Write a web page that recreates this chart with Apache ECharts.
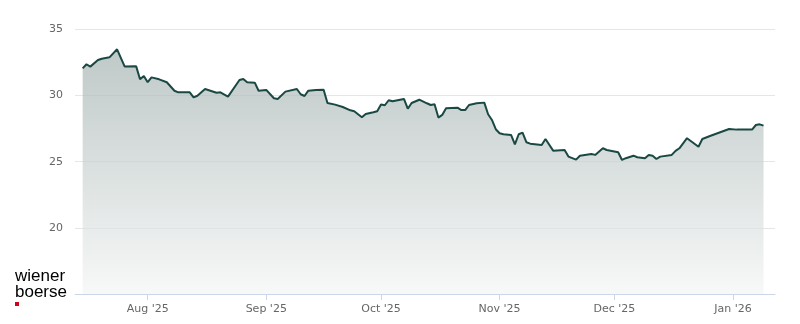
<!DOCTYPE html>
<html>
<head>
<meta charset="utf-8">
<script src="https://cdn.jsdelivr.net/npm/echarts@6/dist/echarts.min.js"></script>
<style>
html,body{margin:0;padding:0;background:#fff;}
#c{width:800px;height:324px;}
</style>
</head>
<body>
<div id="c"></div>
<script>
const dates = [
'2025-07-15','2025-07-16','2025-07-17','2025-07-19','2025-07-20','2025-07-22','2025-07-24','2025-07-26',
'2025-07-29','2025-07-30','2025-07-31','2025-08-01','2025-08-02','2025-08-04','2025-08-06','2025-08-08',
'2025-08-09','2025-08-12','2025-08-13','2025-08-14','2025-08-16','2025-08-19','2025-08-20','2025-08-22',
'2025-08-25','2025-08-26','2025-08-27','2025-08-29','2025-08-30','2025-09-01','2025-09-03','2025-09-04',
'2025-09-06','2025-09-09','2025-09-10','2025-09-11','2025-09-12','2025-09-14','2025-09-16','2025-09-17',
'2025-09-19','2025-09-21','2025-09-23','2025-09-24','2025-09-26','2025-09-27','2025-09-29','2025-09-30',
'2025-10-01','2025-10-02','2025-10-03','2025-10-04','2025-10-07','2025-10-08','2025-10-09','2025-10-11',
'2025-10-13','2025-10-14','2025-10-15','2025-10-16','2025-10-17','2025-10-18','2025-10-21','2025-10-22',
'2025-10-23','2025-10-24','2025-10-26','2025-10-28','2025-10-29','2025-10-30','2025-10-31','2025-11-01',
'2025-11-02','2025-11-04','2025-11-05','2025-11-06','2025-11-07','2025-11-08','2025-11-09','2025-11-12',
'2025-11-13','2025-11-15','2025-11-18','2025-11-19','2025-11-21','2025-11-22','2025-11-25','2025-11-26',
'2025-11-28','2025-11-29','2025-12-02','2025-12-03','2025-12-04','2025-12-06','2025-12-07','2025-12-09',
'2025-12-10','2025-12-11','2025-12-12','2025-12-13','2025-12-16','2025-12-17','2025-12-18','2025-12-20',
'2025-12-23','2025-12-24','2025-12-26','2025-12-31','2026-01-02','2026-01-06','2026-01-07','2026-01-08',
'2026-01-09'
];
const prices = [
32.05,32.36,32.18,32.68,32.78,32.88,33.49,32.18,
32.20,31.22,31.47,31.00,31.37,31.22,31.00,30.36,
30.24,30.24,29.86,29.98,30.49,30.21,30.24,29.91,
31.17,31.25,31.00,30.97,30.36,30.42,29.79,29.74,
30.29,30.49,30.09,29.96,30.36,30.42,30.44,29.43,
29.31,29.13,28.88,28.81,28.35,28.60,28.73,28.81,
29.31,29.26,29.64,29.56,29.74,29.00,29.43,29.68,
29.41,29.28,29.34,28.33,28.53,29.03,29.08,28.90,
28.90,29.28,29.41,29.46,28.58,28.15,27.45,27.15,
27.07,27.02,26.31,27.07,27.19,26.47,26.36,26.26,
26.71,25.83,25.88,25.38,25.15,25.45,25.58,25.51,
26.01,25.88,25.71,25.13,25.26,25.45,25.33,25.26,
25.51,25.45,25.20,25.38,25.51,25.81,26.01,26.77,
26.13,26.71,26.94,27.47,27.42,27.42,27.77,27.82,
27.72
];
const xTickDates = ['2025-08-01','2025-09-01','2025-10-01','2025-11-01','2025-12-01','2026-01-01'];
const xTickLabels = ["Aug '25","Sep '25","Oct '25","Nov '25","Dec '25","Jan '26"];
const yTicks = [15,20,25,30,35];
const xMin = '2025-07-13';
const xMax = '2026-01-12';

const ts = s => { const p = s.split('-'); return Date.UTC(+p[0], +p[1]-1, +p[2]); };
const tickTs = xTickDates.map(ts);
const seriesData = dates.map((d,i)=>[ts(d), prices[i]]);

const chart = echarts.init(document.getElementById('c'), null, {renderer:'canvas'});
chart.setOption({
  animation:false,
  backgroundColor:'#ffffff',
  grid:{left:75, right:25, top:29.3, bottom:30, containLabel:false},
  xAxis:{
    type:'value',
    min:ts(xMin), max:ts(xMax),
    axisLine:{show:true, lineStyle:{color:'#ccd6eb', width:1}},
    axisTick:{show:true, customValues:tickTs, length:6, lineStyle:{color:'#ccd6eb'}},
    axisLabel:{
      customValues:tickTs, margin:10,
      color:'#666666', fontSize:11, fontFamily:'DejaVu Sans',
      formatter:function(v){ const i = tickTs.indexOf(v); return i>=0 ? xTickLabels[i] : ''; }
    },
    splitLine:{show:false}
  },
  yAxis:{
    type:'value', min:yTicks[0], max:yTicks[yTicks.length-1], interval:5,
    axisLine:{show:false}, axisTick:{show:false},
    axisLabel:{
      color:'#666666', fontSize:11, fontFamily:'DejaVu Sans', margin:12,
      padding:[4,0,0,0],
      formatter:function(v){ return v===yTicks[0] ? '' : String(v); }
    },
    splitLine:{show:true, lineStyle:{color:'#e6e6e6', width:1}}
  },
  series:[{
    type:'line',
    data:seriesData,
    showSymbol:false,
    symbol:'none',
    lineStyle:{color:'#1a4843', width:2},
    itemStyle:{color:'#1a4843'},
    areaStyle:{
      origin:'start',
      color:new echarts.graphic.LinearGradient(0,0,0,1,[
        {offset:0, color:'#a3b2b0'},
        {offset:1, color:'#f4f5f5'}
      ])
    },
    z:3
  }],
  graphic:[
    {type:'text', left:15, top:268, style:{text:'wiener', font:'17px "Liberation Sans", Arial, sans-serif', fill:'#000000'}},
    {type:'text', left:15, top:284, style:{text:'boerse', font:'17px "Liberation Sans", Arial, sans-serif', fill:'#000000'}},
    {type:'rect', shape:{x:15, y:302, width:4, height:4}, style:{fill:'#d0021b'}}
  ]
});
</script>
</body>
</html>
